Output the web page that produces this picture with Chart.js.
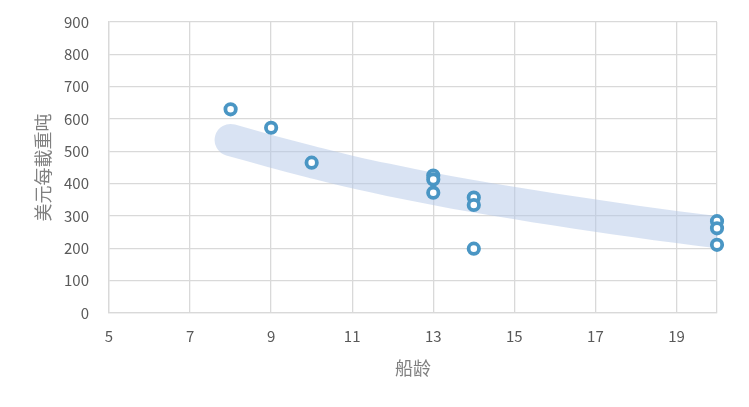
<!DOCTYPE html>
<html>
<head>
<meta charset="utf-8">
<script src="https://cdn.jsdelivr.net/npm/chart.js@4"></script>
<style>
  html, body { margin: 0; padding: 0; background: #fff; }
  #wrap { width: 749px; height: 407px; }
</style>
</head>
<body>
<div id="wrap"><canvas id="shipChart" width="749" height="407"></canvas></div>
<script>
// ship age (years) vs USD per DWT
const shipAge = [8, 9, 10, 13, 13, 13, 14, 14, 14, 20, 20, 20];
const usdPerDwt = [630, 573, 465, 425, 413, 372, 357, 334, 199, 284, 262, 211];

// trend band
const trendAge = [8, 9, 10, 11, 12, 13, 14, 15, 16, 17, 18, 19, 20];
const trendValue = [535, 500, 467, 436, 409, 384, 361, 340, 320, 301, 283, 266, 250];

const xTicks = [5, 7, 9, 11, 13, 15, 17, 19];

const tickFont = { family: "'Noto Sans CJK SC', 'Noto Sans', sans-serif", size: 15, lineHeight: 1 };
const titleFont = { family: "'Noto Sans CJK SC', sans-serif", size: 18 };

const ctx = document.getElementById("shipChart").getContext("2d");

new Chart(ctx, {
  type: "scatter",
  data: {
    datasets: [
      {
        type: "line",
        label: "trend",
        data: trendAge.map((x, i) => ({ x: x, y: trendValue[i] })),
        borderColor: "rgba(180, 199, 231, 0.5)",
        borderWidth: 32,
        borderCapStyle: "round",
        borderJoinStyle: "round",
        pointRadius: 0,
        tension: 0.4,
        fill: false,
        clip: 0,
        order: 2
      },
      {
        label: "points",
        data: shipAge.map((x, i) => ({ x: x, y: usdPerDwt[i] })),
        backgroundColor: "#ffffff",
        borderColor: "#4a96c4",
        borderWidth: 3.8,
        pointRadius: 5.2,
        pointHoverRadius: 5.2,
        clip: false,
        order: 1
      }
    ]
  },
  options: {
    responsive: false,
    animation: false,
    layout: { padding: { left: 0, right: 32, top: 22, bottom: 0 } },
    plugins: {
      legend: { display: false },
      tooltip: { enabled: false }
    },
    scales: {
      x: {
        type: "linear",
        min: 5,
        max: 20,
        afterBuildTicks: (scale) => {
          scale.ticks = xTicks.concat([20]).map(v => ({ value: v }));
        },
        ticks: {
          color: "#595959",
          font: tickFont,
          padding: 16,
          maxRotation: 0,
          callback: (v) => (xTicks.includes(v) ? String(v) : "")
        },
        grid: { color: "#d9d9d9", lineWidth: 1.3, drawTicks: false },
        border: { color: "#d9d9d9", width: 1.3 },
        title: {
          display: true,
          text: "船龄",
          color: "#808080",
          font: titleFont,
          padding: { top: 0, bottom: 28 }
        },
        afterFit: (scale) => { scale.height = 94; }
      },
      y: {
        min: 0,
        max: 900,
        ticks: {
          stepSize: 100,
          color: "#595959",
          font: tickFont,
          padding: 20
        },
        grid: { color: "#d9d9d9", lineWidth: 1.3, drawTicks: false },
        border: { color: "#d9d9d9", width: 1.3 },
        title: {
          display: true,
          text: "美元每載重吨",
          color: "#808080",
          font: titleFont,
          padding: { top: 32, bottom: 0 }
        },
        afterFit: (scale) => {
          scale.width = 109;
          scale.paddingTop = 0;
          scale.paddingBottom = 0;
        }
      }
    }
  }
});
</script>
</body>
</html>
